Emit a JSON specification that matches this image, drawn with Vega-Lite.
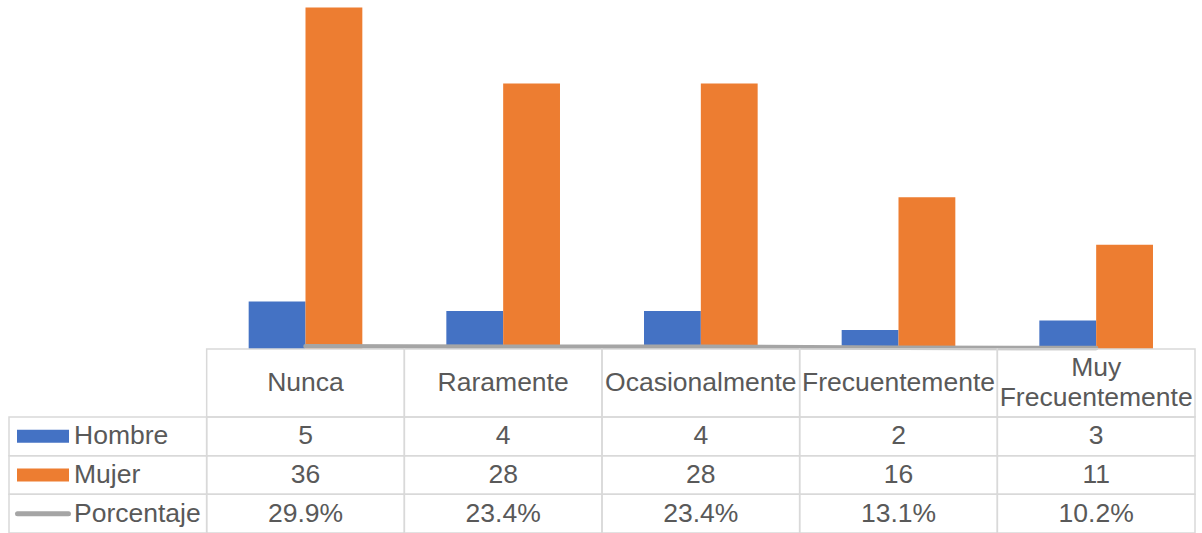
{
  "$schema": "https://vega.github.io/schema/vega-lite/v6.json",
  "padding": {"left": 7, "right": 9, "top": 0, "bottom": 0},
  "spacing": 0,
  "bounds": "flush",
  "config": {"view": {"stroke": null}, "text": {"font": "Liberation Sans"}},
  "datasets": {
    "d": [
      {"cat": "Nunca", "label": "Nunca", "Hombre": 5, "Mujer": 36, "Porcentaje": 0.299},
      {"cat": "Raramente", "label": "Raramente", "Hombre": 4, "Mujer": 28, "Porcentaje": 0.234},
      {"cat": "Ocasionalmente", "label": "Ocasionalmente", "Hombre": 4, "Mujer": 28, "Porcentaje": 0.234},
      {"cat": "Frecuentemente", "label": "Frecuentemente", "Hombre": 2, "Mujer": 16, "Porcentaje": 0.131},
      {"cat": "Muy Frecuentemente", "label": "Muy\nFrecuentemente", "Hombre": 3, "Mujer": 11, "Porcentaje": 0.102}
    ],
    "s": [{"key": "Hombre"}, {"key": "Mujer"}, {"key": "Porcentaje"}]
  },
  "resolve": {"scale": {"x": "independent", "y": "independent"}},
  "vconcat": [
    {
      "width": 1186,
      "height": 349,
      "data": {"name": "d"},
      "layer": [
        {
          "transform": [{"fold": ["Hombre", "Mujer"], "as": ["key", "value"]}],
          "mark": {"type": "bar"},
          "encoding": {
            "x": {"field": "cat", "type": "nominal", "axis": null,
                  "scale": {"domain": [" ", "Nunca", "Raramente", "Ocasionalmente", "Frecuentemente", "Muy Frecuentemente"], "paddingInner": 0.425, "paddingOuter": 0.2125}},
            "xOffset": {"field": "key", "type": "nominal", "scale": {"domain": ["Hombre", "Mujer"]}},
            "y": {"field": "value", "type": "quantitative", "axis": null, "scale": {"domain": [0, 36.8], "nice": false}},
            "color": {"field": "key", "type": "nominal", "legend": null,
                      "scale": {"domain": ["Hombre", "Mujer"], "range": ["#4472C4", "#ED7D31"]}}
          }
        },
        {
          "mark": {"type": "line", "color": "#A5A5A5", "strokeWidth": 4.5, "strokeCap": "round"},
          "encoding": {
            "x": {"field": "cat", "type": "nominal", "axis": null},
            "y": {"field": "Porcentaje", "type": "quantitative", "axis": null},
            "order": {"value": null}
          }
        }
      ]
    },
    {
      "width": 1186,
      "height": 68,
      "data": {"name": "d"},
      "encoding": {
        "x": {"field": "cat", "type": "nominal", "axis": null,
              "scale": {"domain": [" ", "Nunca", "Raramente", "Ocasionalmente", "Frecuentemente", "Muy Frecuentemente"], "paddingInner": 0, "paddingOuter": 0}}
      },
      "layer": [
        {"mark": {"type": "rect", "filled": false, "stroke": "#D9D9D9", "strokeWidth": 1.5}},
        {
          "transform": [{"filter": "indexof(datum.label, '\\n') < 0"}],
          "mark": {"type": "text", "fontSize": 26.5, "color": "#595959", "baseline": "middle"},
          "encoding": {"text": {"field": "label"}}
        },
        {
          "transform": [{"filter": "indexof(datum.label, '\\n') >= 0"}],
          "mark": {"type": "text", "fontSize": 26.5, "color": "#595959", "lineBreak": "\n", "lineHeight": 30, "baseline": "middle", "dy": -15},
          "encoding": {"text": {"field": "label"}}
        }
      ]
    },
    {
      "width": 1186,
      "height": 116,
      "layer": [
        {
          "data": {"name": "d"},
          "transform": [{"fold": ["Hombre", "Mujer", "Porcentaje"], "as": ["key", "value"]}],
          "mark": {"type": "rect", "filled": false, "stroke": "#D9D9D9", "strokeWidth": 1.5},
          "encoding": {
            "x": {"field": "cat", "type": "nominal", "axis": null,
                  "scale": {"domain": [" ", "Nunca", "Raramente", "Ocasionalmente", "Frecuentemente", "Muy Frecuentemente"], "paddingInner": 0, "paddingOuter": 0}},
            "y": {"field": "key", "type": "nominal", "axis": null,
                  "scale": {"domain": ["Hombre", "Mujer", "Porcentaje"], "paddingInner": 0, "paddingOuter": 0}}
          }
        },
        {
          "data": {"name": "s"},
          "mark": {"type": "rect", "filled": false, "stroke": "#D9D9D9", "strokeWidth": 1.5},
          "encoding": {
            "x": {"datum": " ", "type": "nominal", "axis": null},
            "y": {"field": "key", "type": "nominal", "axis": null}
          }
        },
        {
          "data": {"name": "d"},
          "transform": [{"fold": ["Hombre", "Mujer"], "as": ["key", "value"]}],
          "mark": {"type": "text", "fontSize": 26.5, "color": "#595959", "baseline": "middle"},
          "encoding": {
            "x": {"field": "cat", "type": "nominal", "axis": null},
            "y": {"field": "key", "type": "nominal", "axis": null},
            "text": {"field": "value", "type": "quantitative", "format": "d"}
          }
        },
        {
          "data": {"name": "d"},
          "mark": {"type": "text", "fontSize": 26.5, "color": "#595959", "baseline": "middle"},
          "encoding": {
            "x": {"field": "cat", "type": "nominal", "axis": null},
            "y": {"datum": "Porcentaje", "type": "nominal", "axis": null},
            "text": {"field": "Porcentaje", "type": "quantitative", "format": ".1%"}
          }
        },
        {
          "data": {"name": "s"},
          "transform": [{"filter": "datum.key !== 'Porcentaje'"}],
          "mark": {"type": "point", "shape": "M-1,-0.25H1V0.25H-1Z", "size": 2704, "filled": true, "opacity": 1, "strokeWidth": 0, "xOffset": 34},
          "encoding": {
            "x": {"datum": " ", "type": "nominal", "axis": null, "bandPosition": 0},
            "y": {"field": "key", "type": "nominal", "axis": null},
            "color": {"field": "key", "type": "nominal", "legend": null}
          }
        },
        {
          "data": {"name": "s"},
          "transform": [{"filter": "datum.key === 'Porcentaje'"}],
          "mark": {"type": "point", "shape": "M-1,0H1", "size": 2601, "filled": false, "opacity": 1, "stroke": "#A5A5A5", "strokeWidth": 5, "strokeCap": "round", "xOffset": 34},
          "encoding": {
            "x": {"datum": " ", "type": "nominal", "axis": null, "bandPosition": 0},
            "y": {"field": "key", "type": "nominal", "axis": null}
          }
        },
        {
          "data": {"name": "s"},
          "mark": {"type": "text", "fontSize": 26.5, "color": "#595959", "baseline": "middle", "align": "left", "dx": 65},
          "encoding": {
            "x": {"datum": " ", "type": "nominal", "axis": null, "bandPosition": 0},
            "y": {"field": "key", "type": "nominal", "axis": null},
            "text": {"field": "key"}
          }
        }
      ]
    }
  ]
}
